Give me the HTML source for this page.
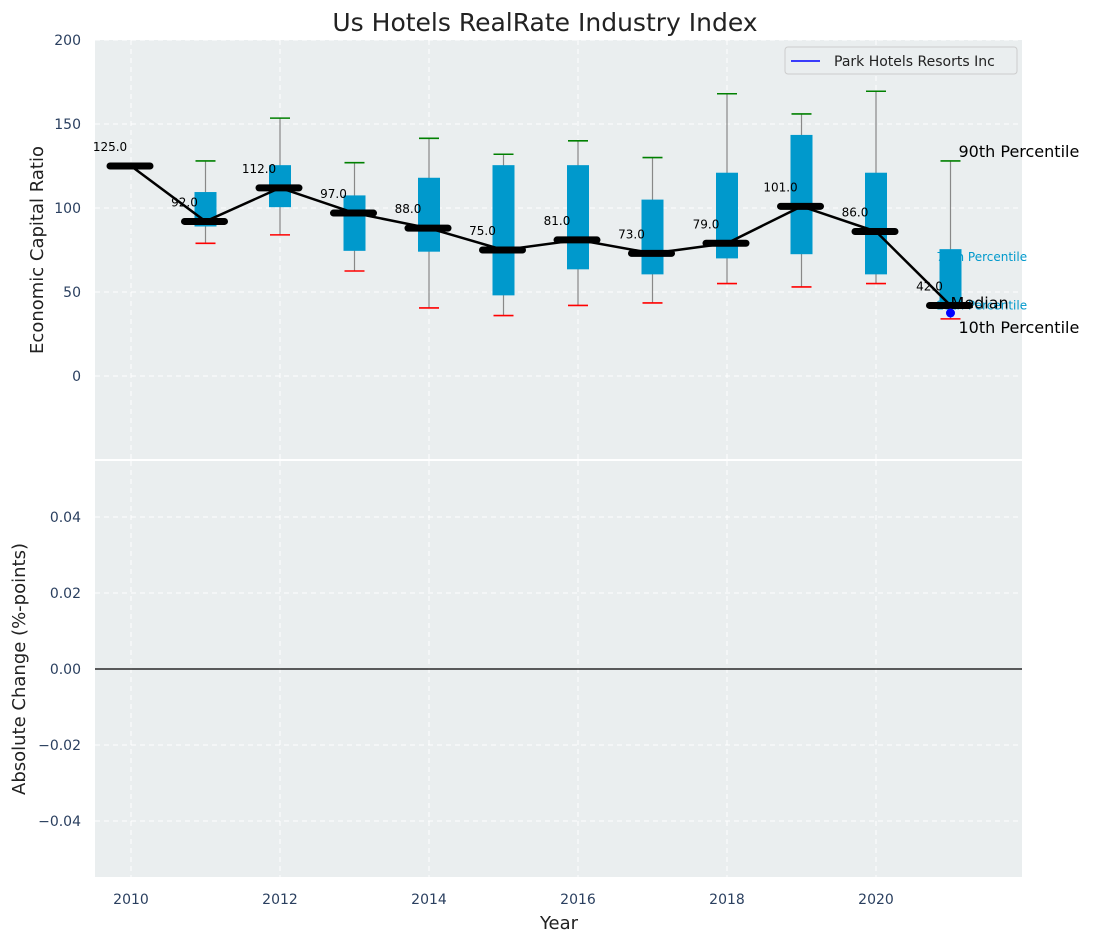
<!DOCTYPE html>
<html><head><meta charset="utf-8"><style>
body{margin:0;background:#fff;font-family:"DejaVu Sans","Liberation Sans",sans-serif}
svg text{font-family:"DejaVu Sans","Liberation Sans",sans-serif}
</style></head><body>
<svg id="chart" width="1093" height="942" viewBox="0 0 1093 942" xmlns="http://www.w3.org/2000/svg">
<text x="545" y="31" font-size="25" text-anchor="middle" fill="#222">Us Hotels RealRate Industry Index</text>
<rect x="95" y="40" width="927" height="419" fill="#eaeeef"/>
<rect x="95" y="461" width="927" height="416" fill="#eaeeef"/>
<g id="grid"></g><g id="marks"></g><g id="axes"></g>
<text transform="translate(43,250) rotate(-90)" font-size="18" text-anchor="middle" fill="#222">Economic Capital Ratio</text>
<text transform="translate(25,669) rotate(-90)" font-size="18" text-anchor="middle" fill="#222">Absolute Change (%-points)</text>
<text x="559" y="929" font-size="18" text-anchor="middle" fill="#222">Year</text>
<g>
<rect x="785" y="47" width="232" height="27" rx="3" fill="#eaeeef" stroke="#ccc"/>
<line x1="791" y1="61" x2="820" y2="61" stroke="#0000ff" stroke-width="1.6"/>
<text x="834" y="66" font-size="14" fill="#222">Park Hotels Resorts Inc</text>
</g>
</svg>
<script>
const years=[2010,2011,2012,2013,2014,2015,2016,2017,2018,2019,2020,2021];
const medians=[125,92,112,97,88,75,81,73,79,101,86,42];
const q1=[null,89,100.5,74.5,74,48,63.5,60.5,70,72.5,60.5,42];
const q3=[null,109.5,125.5,107.5,118,125.5,125.5,105,121,143.5,121,75.5];
const p10=[null,79,84,62.5,40.5,36,42,43.5,55,53,55,34];
const p90=[null,128,153.5,127,141.5,132,140,130,168,156,169.5,128];
const companyValue=[37.5];
const companyYear=[2021];
const yTicksTop=[0,50,100,150,200];
const yTicksBottom=[-0.04,-0.02,0,0.02,0.04];
const xTicks=[2010,2012,2014,2016,2018,2020];

const NS="http://www.w3.org/2000/svg";
const X=v=>131+(v-2010)*74.5;
const Y=v=>376-v*1.68;
const Y2=v=>669-v*3800;
function mk(parent,tag,attrs){const e=document.createElementNS(NS,tag);for(const k in attrs)e.setAttribute(k,attrs[k]);document.getElementById(parent).appendChild(e);return e;}
const tc="#2a3f5f";
yTicksTop.forEach(t=>{
 let l=mk('grid','line',{x1:95,x2:1022,y1:Y(t),y2:Y(t),stroke:'#fff','stroke-dasharray':'5,4','stroke-width':1});
 
 
 let s=mk('axes','text',{x:81,y:Y(t)+5,'font-size':14,'text-anchor':'end',fill:tc});s.textContent=t;
 
 
});
yTicksBottom.forEach(t=>{
 let l=mk('grid','line',{x1:95,x2:1022,y1:Y2(t),y2:Y2(t),stroke:'#fff','stroke-dasharray':'5,4','stroke-width':1});
 
 
 let s=mk('axes','text',{x:81,y:Y2(t)+5,'font-size':14,'text-anchor':'end',fill:tc});
 s.textContent=(t<0?'\u2212':'')+Math.abs(t).toFixed(2);
 
 
});
xTicks.forEach(t=>{
 [[40,459],[461,877]].forEach(r=>{
  let l=mk('grid','line',{x1:X(t),x2:X(t),y1:r[0],y2:r[1],stroke:'#fff','stroke-dasharray':'5,4','stroke-width':1});
  
  
 });
 let s=mk('axes','text',{x:X(t),y:904,'font-size':14,'text-anchor':'middle',fill:tc});s.textContent=t;
 
 
});
let z=mk('marks','line',{x1:95,x2:1022,y1:Y2(0),y2:Y2(0),stroke:'#000','stroke-width':1.2});



const li=years.length-1, lx=X(years[li]);
[[q3[li],'75th Percentile',-14,12],[q1[li],'25th Percentile',-14,4]].forEach(a=>{
 let s=mk('marks','text',{x:lx+a[2],y:Y(a[0])+a[3],'font-size':12,fill:'#0099cc'});s.textContent=a[1];
 
 
});
years.forEach((yr,i)=>{
 const x=X(yr);
 if(p10[i]!==null){
  let w=mk('marks','line',{x1:x,x2:x,y1:Y(p90[i]),y2:Y(p10[i]),stroke:'#888','stroke-width':1.2});
  
  
  let b=mk('marks','rect',{x:x-11,y:Y(q3[i]),width:22,height:Y(q1[i])-Y(q3[i]),fill:'#0099cc'});
  
  
  let cu=mk('marks','line',{x1:x-10,x2:x+10,y1:Y(p90[i]),y2:Y(p90[i]),stroke:'green','stroke-width':1.6});
  
  
  let cl=mk('marks','line',{x1:x-10,x2:x+10,y1:Y(p10[i]),y2:Y(p10[i]),stroke:'red','stroke-width':1.6});
  
  
 }
});
let pl=mk('marks','polyline',{points:years.map((y,i)=>X(y)+','+Y(medians[i])).join(' '),fill:'none',stroke:'#000','stroke-width':2.5});


years.forEach((yr,i)=>{
 const x=X(yr);
 let m=mk('marks','line',{x1:x-21,x2:x+19,y1:Y(medians[i]),y2:Y(medians[i]),stroke:'#000','stroke-width':7,'stroke-linecap':'round'});
 
 
 let t=mk('marks','text',{x:x-21,y:Y(medians[i])-15,'font-size':12,'text-anchor':'middle',fill:'#000'});
 t.textContent=medians[i].toFixed(1);
 
 
});
companyYear.forEach((yr,i)=>{
 let c=mk('marks','circle',{cx:X(yr),cy:Y(companyValue[i]),r:4.5,fill:'#0000ff'});
 
 
});
[[p90[li],'90th Percentile',8,-4],[medians[li],'Median',0,3],[p10[li],'10th Percentile',8,14]].forEach(a=>{
 let s=mk('marks','text',{x:lx+a[2],y:Y(a[0])+a[3],'font-size':16,fill:'#000'});s.textContent=a[1];
 
 
});
</script>
</body></html>
